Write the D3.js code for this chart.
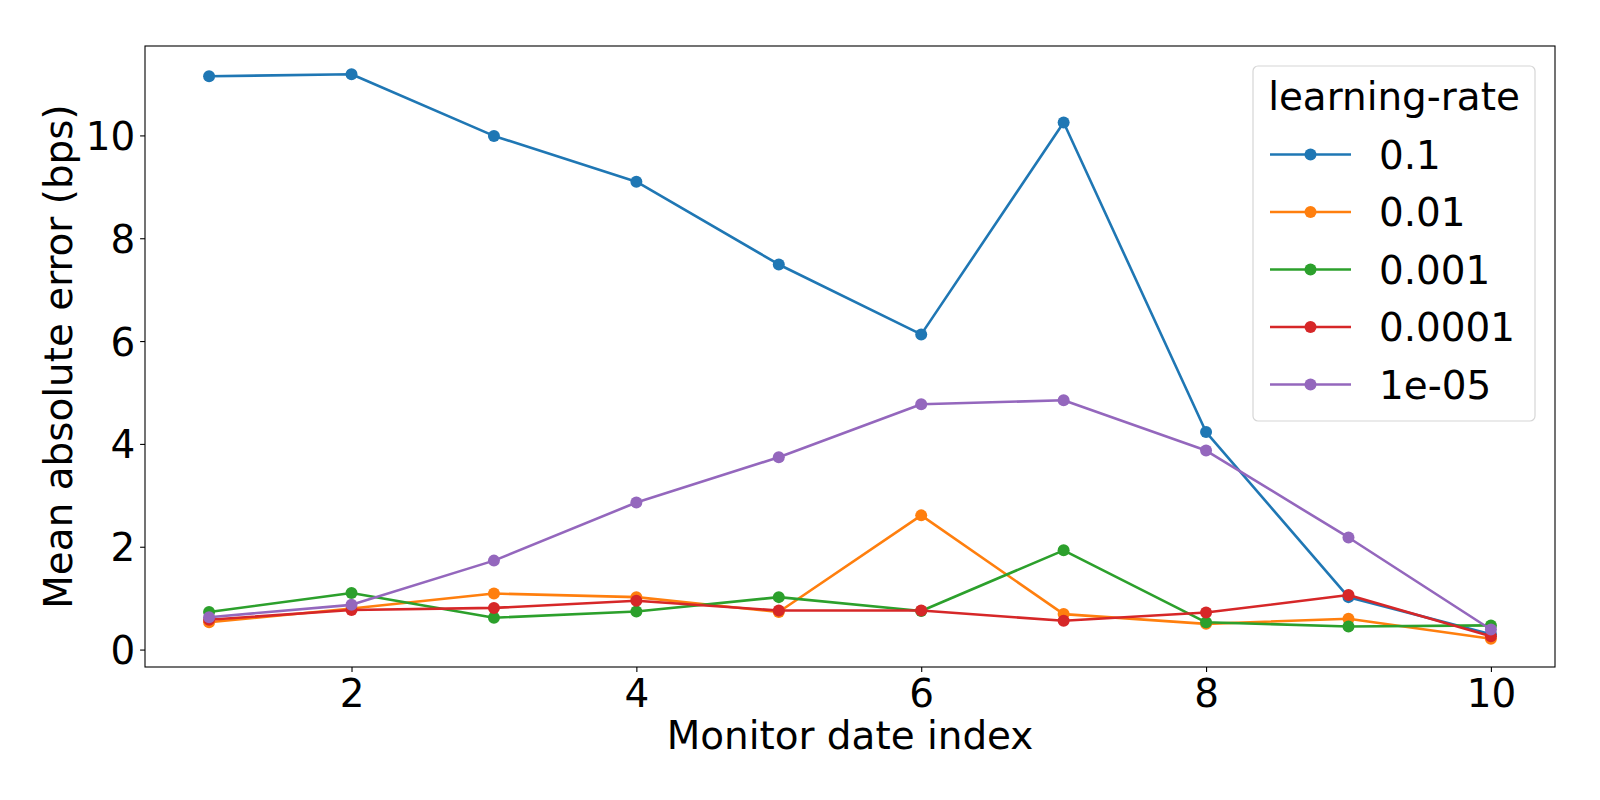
<!DOCTYPE html>
<html>
<head>
<meta charset="utf-8">
<script src="https://cdn.jsdelivr.net/npm/d3@7"></script>
<style>
  html, body { margin: 0; padding: 0; background: #fff; }
  svg { display: block; font-family: "DejaVu Sans", sans-serif; }
</style>
</head>
<body>
<div id="chart"></div>
<script>
// monitor date index 1..10
var dates = [1, 2, 3, 4, 5, 6, 7, 8, 9, 10];
var rates = ["0.1", "0.01", "0.001", "0.0001", "1e-05"];
var colors = ["#1f77b4", "#ff7f0e", "#2ca02c", "#d62728", "#9467bd"];

// mean absolute error (bps)
var lr1 = [11.15, 11.19, 9.99, 9.10, 7.49, 6.13, 10.25, 4.23, 1.02, 0.30];
var lr2 = [0.53, 0.80, 1.09, 1.02, 0.73, 2.61, 0.69, 0.50, 0.60, 0.21];
var lr3 = [0.73, 1.10, 0.62, 0.74, 1.02, 0.75, 1.93, 0.53, 0.45, 0.47];
var lr4 = [0.58, 0.77, 0.81, 0.95, 0.76, 0.76, 0.56, 0.72, 1.06, 0.26];
var lr5 = [0.63, 0.87, 1.73, 2.86, 3.74, 4.77, 4.85, 3.87, 2.18, 0.39];

var xTicks = [2, 4, 6, 8, 10];
var yTicks = [0, 2, 4, 6, 8, 10];

var series = [lr1, lr2, lr3, lr4, lr5];

var width = 1600, height = 800;
var margin = { top: 46, right: 45, bottom: 133, left: 145 };
var fontSize = "38.9px";

var svg = d3.select("#chart").append("svg")
    .attr("width", width)
    .attr("height", height);

// matplotlib-style 5% padding around the data
var xMin = d3.min(dates), xMax = d3.max(dates);
var xPad = (xMax - xMin) * 0.05;
var allVals = d3.merge(series);
var yMin = d3.min(allVals), yMax = d3.max(allVals);
var yPad = (yMax - yMin) * 0.05;

var x = d3.scaleLinear()
    .domain([xMin - xPad, xMax + xPad])
    .range([margin.left, width - margin.right]);
var y = d3.scaleLinear()
    .domain([yMin - yPad, yMax + yPad])
    .range([height - margin.bottom, margin.top]);

// axes
var xAxis = svg.append("g")
    .attr("transform", "translate(0," + (height - margin.bottom) + ")")
    .call(d3.axisBottom(x).tickValues(xTicks).tickFormat(d3.format("d"))
        .tickSize(4.9).tickSizeOuter(0).tickPadding(4.9));
xAxis.select(".domain").remove();
xAxis.selectAll(".tick line").attr("stroke", "#000").attr("stroke-width", 1.1);
xAxis.selectAll(".tick text")
    .attr("fill", "#000")
    .attr("font-size", fontSize)
    .attr("font-family", "DejaVu Sans")
    .attr("dy", null)
    .attr("y", 40);

var yAxis = svg.append("g")
    .attr("transform", "translate(" + margin.left + ",0)")
    .call(d3.axisLeft(y).tickValues(yTicks).tickFormat(d3.format("d"))
        .tickSize(4.9).tickSizeOuter(0).tickPadding(4.9));
yAxis.select(".domain").remove();
yAxis.selectAll(".tick line").attr("stroke", "#000").attr("stroke-width", 1.1);
yAxis.selectAll(".tick text")
    .attr("fill", "#000")
    .attr("font-size", fontSize)
    .attr("font-family", "DejaVu Sans")
    .attr("dy", "0.36em");

// lines and markers, drawn in legend order so later series sit on top
var line = d3.line()
    .x(function (d, i) { return x(dates[i]); })
    .y(function (d) { return y(d); });

series.forEach(function (vals, k) {
    var g = svg.append("g").attr("class", "series");
    g.append("path")
        .datum(vals)
        .attr("fill", "none")
        .attr("stroke", colors[k])
        .attr("stroke-width", 2.6)
        .attr("stroke-linejoin", "round")
        .attr("d", line);
    g.selectAll("circle")
        .data(vals)
        .enter().append("circle")
        .attr("cx", function (d, i) { return x(dates[i]); })
        .attr("cy", function (d) { return y(d); })
        .attr("r", 6)
        .attr("fill", colors[k]);
});

// frame
svg.append("rect")
    .attr("x", margin.left)
    .attr("y", margin.top)
    .attr("width", width - margin.left - margin.right)
    .attr("height", height - margin.top - margin.bottom)
    .attr("fill", "none")
    .attr("stroke", "#000")
    .attr("stroke-width", 1.1);

// axis labels
svg.append("text")
    .attr("x", (margin.left + width - margin.right) / 2)
    .attr("y", 749)
    .attr("text-anchor", "middle")
    .attr("font-size", fontSize)
    .text("Monitor date index");

svg.append("text")
    .attr("transform", "translate(71.5," + ((margin.top + height - margin.bottom) / 2) + ") rotate(-90)")
    .attr("text-anchor", "middle")
    .attr("font-size", fontSize)
    .text("Mean absolute error (bps)");

// legend
var legend = svg.append("g").attr("transform", "translate(1253,66)");
legend.append("rect")
    .attr("width", 282)
    .attr("height", 355)
    .attr("rx", 5)
    .attr("fill", "#fff")
    .attr("fill-opacity", 0.8)
    .attr("stroke", "#d6d6d6")
    .attr("stroke-width", 1.2);
legend.append("text")
    .attr("x", 141)
    .attr("y", 44)
    .attr("text-anchor", "middle")
    .attr("font-size", fontSize)
    .text("learning-rate");

var rows = legend.selectAll(".row")
    .data(rates)
    .enter().append("g")
    .attr("class", "row")
    .attr("transform", function (d, i) { return "translate(0," + (88.5 + i * 57.5) + ")"; });
rows.append("line")
    .attr("x1", 17).attr("x2", 98)
    .attr("stroke", function (d, i) { return colors[i]; })
    .attr("stroke-width", 2.6);
rows.append("circle")
    .attr("cx", 57.5)
    .attr("r", 6)
    .attr("fill", function (d, i) { return colors[i]; });
rows.append("text")
    .attr("x", 126)
    .attr("dy", "0.365em")
    .attr("font-size", fontSize)
    .text(function (d) { return d; });
</script>
</body>
</html>
